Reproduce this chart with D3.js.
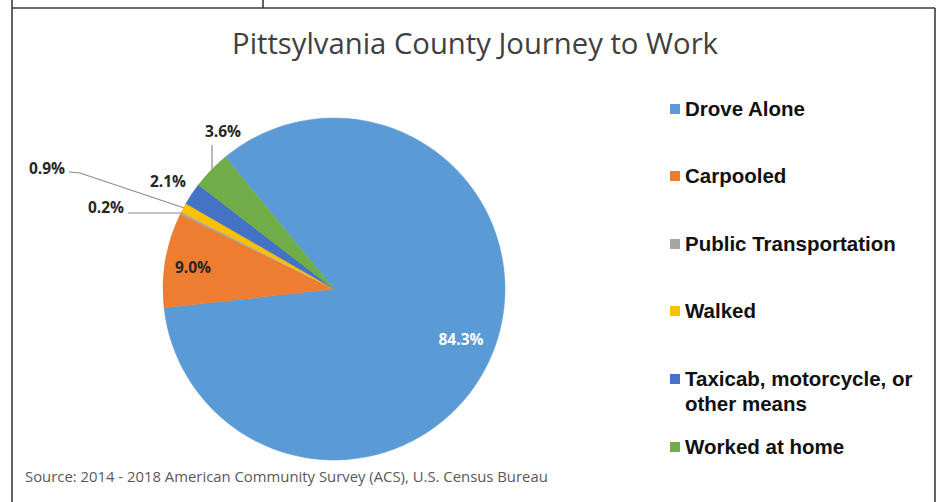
<!DOCTYPE html>
<html>
<head>
<meta charset="utf-8">
<script src="https://cdn.jsdelivr.net/npm/d3@7"></script>
<style>
  html, body { margin: 0; padding: 0; background: #fff; }
  svg { display: block; }
</style>
</head>
<body>
<svg id="chart" width="948" height="502"></svg>
<script>
// Journey-to-work shares, Pittsylvania County (ACS 2014-2018)
const categories = ["Drove Alone", "Carpooled", "Public Transportation", "Walked", "Taxicab, motorcycle, or other means", "Worked at home"];
const legendLines = [["Drove Alone"], ["Carpooled"], ["Public Transportation"], ["Walked"], ["Taxicab, motorcycle, or", "other means"], ["Worked at home"]];
const shares = [84.3, 9.0, 0.2, 0.9, 2.1, 3.6];
const colors = ["#5B9BD5", "#ED7D31", "#A5A5A5", "#FFC000", "#4472C4", "#70AD47"];
const titleText = "Pittsylvania County Journey to Work";
const sourceText = "Source:  2014 - 2018 American Community Survey (ACS), U.S. Census Bureau";

const svg = d3.select("#chart");

// Page frame: surrounding table rules
const frame = svg.append("g").attr("stroke", "#3a3a3a").attr("stroke-width", 1.6).attr("fill", "none");
frame.append("line").attr("x1", 12).attr("y1", 0).attr("x2", 12).attr("y2", 502);
frame.append("line").attr("x1", 12).attr("y1", 8).attr("x2", 935).attr("y2", 8);
frame.append("line").attr("x1", 935).attr("y1", 8).attr("x2", 935).attr("y2", 502);
frame.append("line").attr("x1", 263).attr("y1", 0).attr("x2", 263).attr("y2", 8);

// Helper: scale font size so a text spans a target width
function fitWidth(sel, target) {
  const w = sel.node().getComputedTextLength();
  const fs = parseFloat(sel.attr("font-size"));
  sel.attr("font-size", (fs * target / w).toFixed(2));
}

// Title
const title = svg.append("text")
  .attr("x", 475).attr("y", 54)
  .attr("text-anchor", "middle")
  .attr("font-family", "'Open Sans', 'Noto Sans', sans-serif")
  .attr("font-size", 24)
  .attr("fill", "#404040")
  .text(titleText);
fitWidth(title, 486);

// Pie
const cx = 334, cy = 289, r = 171;
const startDeg = -39.5;
const pie = d3.pie().sort(null).value(d => d)
  .startAngle(startDeg * Math.PI / 180)
  .endAngle((startDeg + 360) * Math.PI / 180);
const arcs = pie(shares);
const arc = d3.arc().innerRadius(0).outerRadius(r);

const pieG = svg.append("g").attr("transform", `translate(${cx},${cy})`);
pieG.selectAll("path.slice")
  .data(arcs)
  .join("path")
  .attr("class", "slice")
  .attr("d", arc)
  .attr("fill", (d, i) => colors[i])
  .attr("stroke", (d, i) => colors[i])
  .attr("stroke-width", 0.5);

// Data labels
const fmt = v => v.toFixed(1) + "%";
const labelFont = "'Open Sans', 'Noto Sans', sans-serif";
const labelPos = [
  { x: 461, y: 340, fill: "#ffffff" },
  { x: 193, y: 268, fill: "#262626" },
  { x: 106, y: 208, fill: "#262626" },
  { x: 47,  y: 169, fill: "#262626" },
  { x: 168, y: 182, fill: "#262626" },
  { x: 223, y: 132, fill: "#262626" }
];
// Leader lines for the small slices, ending at each slice's outer edge
function edgePoint(d, k) {
  const a = d.startAngle + (d.endAngle - d.startAngle) * k;
  return [cx + r * Math.sin(a), cy - r * Math.cos(a)];
}
const leaders = [
  { i: 2, pts: [[128, 213]] },
  { i: 3, pts: [[69, 172], [80, 173]] },
  { i: 5, pts: [[212, 145]] }
];
const line = d3.line();
svg.append("g").selectAll("path")
  .data(leaders)
  .join("path")
  .attr("d", l => {
    const d = arcs[l.i];
    let end = edgePoint(d, 0.5);
    if (l.i === 5) end = [212, cy - Math.sqrt(r * r - (212 - cx) * (212 - cx))];
    if (l.i === 2) end = [end[0], 213];
    return line([...l.pts, end]);
  })
  .attr("fill", "none")
  .attr("stroke", "#8c8c8c")
  .attr("stroke-width", 1.2);

svg.append("g").selectAll("text")
  .data(arcs)
  .join("text")
  .attr("x", (d, i) => labelPos[i].x)
  .attr("y", (d, i) => labelPos[i].y)
  .attr("dy", "0.35em")
  .attr("text-anchor", "middle")
  .attr("font-family", labelFont)
  .attr("font-weight", 700)
  .attr("font-size", 15.5)
  .attr("fill", (d, i) => labelPos[i].fill)
  .text(d => fmt(d.data));

// Legend
const legendY = [109, 176, 244, 311, 379, 447];
const legend = svg.append("g");
categories.forEach((c, i) => {
  const g = legend.append("g");
  g.append("rect")
    .attr("x", 670).attr("y", legendY[i] - 5)
    .attr("width", 10).attr("height", 10)
    .attr("fill", colors[i]);
  const t = g.append("text")
    .attr("x", 685).attr("y", legendY[i])
    .attr("font-family", "'Liberation Sans', Arial, sans-serif")
    .attr("font-weight", 700)
    .attr("font-size", 20.5)
    .attr("fill", "#111");
  legendLines[i].forEach((ln, j) => {
    t.append("tspan").attr("x", 685).attr("dy", j === 0 ? "0.35em" : "1.22em").text(ln);
  });
});

// Source note
const src = svg.append("text")
  .attr("x", 25).attr("y", 482)
  .attr("font-family", "'Open Sans', 'Noto Sans', sans-serif")
  .attr("font-size", 13)
  .attr("fill", "#595959")
  .text(sourceText);
fitWidth(src, 523);
</script>
</body>
</html>
